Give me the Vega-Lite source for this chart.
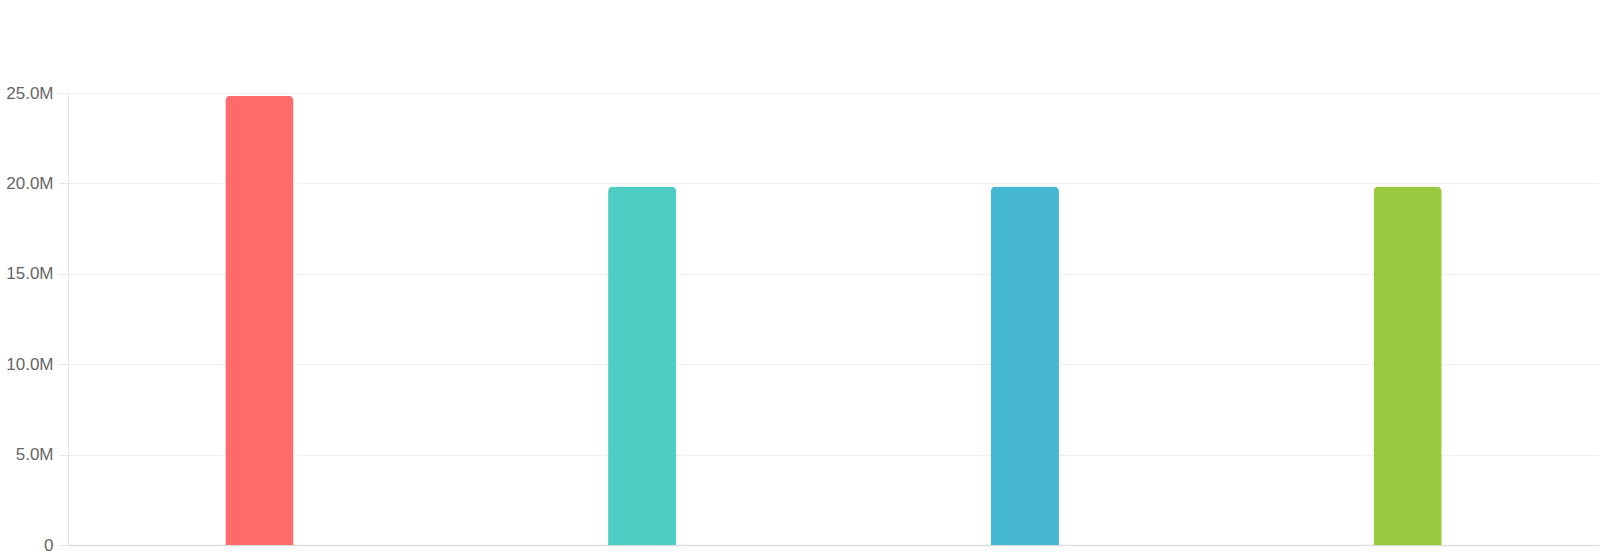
{
  "$schema": "https://vega.github.io/schema/vega-lite/v6.json",
  "autosize": {"type": "none"},
  "width": 1531,
  "height": 452,
  "padding": {"left": 68, "top": 93, "right": 1, "bottom": 15},
  "background": "white",
  "config": {
    "view": {"stroke": null},
    "font": "Liberation Sans"
  },
  "data": {
    "values": [
      {"category": "A", "value": 24850000},
      {"category": "B", "value": 19830000},
      {"category": "C", "value": 19830000},
      {"category": "D", "value": 19830000}
    ]
  },
  "mark": {
    "type": "bar",
    "cornerRadiusTopLeft": 5,
    "cornerRadiusTopRight": 5
  },
  "encoding": {
    "x": {
      "field": "category",
      "type": "nominal",
      "sort": null,
      "scale": {"paddingInner": 0.822, "paddingOuter": 0.411},
      "axis": {
        "title": null,
        "labels": false,
        "ticks": false,
        "domainColor": "#dddddd",
        "domainWidth": 1.5
      }
    },
    "y": {
      "field": "value",
      "type": "quantitative",
      "scale": {"domain": [0, 25000000], "nice": false},
      "axis": {
        "title": null,
        "values": [0, 5000000, 10000000, 15000000, 20000000, 25000000],
        "labelExpr": "datum.value == 0 ? '0' : format(datum.value / 1000000, '.1f') + 'M'",
        "labelFontSize": 17,
        "labelColor": "#666666",
        "labelPadding": 5,
        "tickSize": 10,
        "tickColor": "#e6e6e6",
        "gridColor": "#f0f0f0",
        "domainColor": "#e6e6e6"
      }
    },
    "color": {
      "field": "category",
      "type": "nominal",
      "legend": null,
      "scale": {
        "domain": ["A", "B", "C", "D"],
        "range": ["#FF6B6B", "#4ECDC4", "#45B7D1", "#96C93D"]
      }
    }
  }
}
